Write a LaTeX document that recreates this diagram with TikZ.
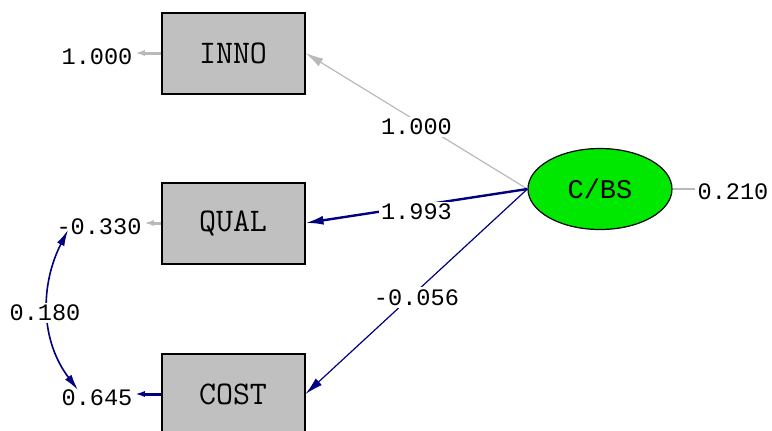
\documentclass[tikz,border=0pt]{standalone}
\usepackage{fontspec}
\setmainfont{Liberation Serif}
\newfontfamily\valfont{Liberation Mono}
\usetikzlibrary{arrows.meta,shapes.geometric}
\definecolor{lisnavy}{RGB}{0,0,128}
\definecolor{lisfill}{RGB}{192,192,192}
\definecolor{lisline}{RGB}{185,185,185}
\definecolor{lisgreen}{RGB}{0,232,0}

\begin{document}
\begin{tikzpicture}[x=0.5pt,y=-0.5pt,
    obs/.style={draw=black,line width=1pt,fill=lisfill,minimum width=71.5pt,minimum height=40.5pt,inner sep=0pt,font=\ttfamily\fontsize{16.5}{18}\selectfont},
    lat/.style={ellipse,draw=black,line width=0.6pt,fill=lisgreen,minimum width=72pt,minimum height=40.5pt,inner sep=0pt,font=\valfont\fontsize{13.5}{15}\selectfont},
    val/.style={font=\valfont\fontsize{11.8}{13}\selectfont,text=black,inner sep=1pt},
    onpath/.style={val,fill=white,midway,yshift=-3pt},
    bigtip/.style={-{Latex[length=9pt,width=4.5pt]}},
    smalltip/.style={-{Latex[length=5pt,width=3pt]}}]
  \useasboundingbox (0,0) rectangle (772,430);
  % observed variables
  \node[obs] (inno) at (233,53) {INNO};
  \node[obs] (qual) at (233,223) {QUAL};
  \node[obs] (cost) at (233,394) {COST};
  % latent
  \node[lat] (cbs) at (600,189) {C/BS};
  % error variances
  \node[val] (einno) at (97,57) {1.000};
  \node[val] (equal) at (99,227) {-0.330};
  \node[val] (ecost) at (97,398) {0.645};
  \node[val] (ecbs) at (733,192) {0.210};
  \draw[lisline,line width=1.5pt,smalltip] (inno.west) -- (inno.west -| einno.east);
  \draw[lisline,line width=1.5pt,smalltip] (qual.west) -- (qual.west -| equal.east);
  \draw[lisnavy,line width=1.5pt,smalltip] (cost.west) -- (cost.west -| ecost.east);
  \draw[lisline,line width=0.8pt] (cbs.east) -- (cbs.east -| ecbs.west);
  % loadings
  \draw[lisline,line width=0.6pt,bigtip] (cbs.west) -- (inno.east) node[onpath] {1.000};
  \draw[lisnavy,line width=1.2pt,bigtip] (cbs.west) -- (qual.east) node[onpath] {1.993};
  \draw[lisnavy,line width=0.6pt,bigtip] (cbs.west) -- (cost.east) node[onpath] {-0.056};
  % error covariance
  \coordinate (covtop) at (68,230);
  \coordinate (covbot) at (78,390);
  \draw[lisnavy,line width=0.8pt,{Latex[length=8pt,width=4pt]}-{Latex[length=8pt,width=4pt]}]
    (covtop) .. controls (40,285) and (40,340) .. (covbot);
  \node[val,fill=white] (cov) at (45,313) {0.180};
\end{tikzpicture}
\end{document}
